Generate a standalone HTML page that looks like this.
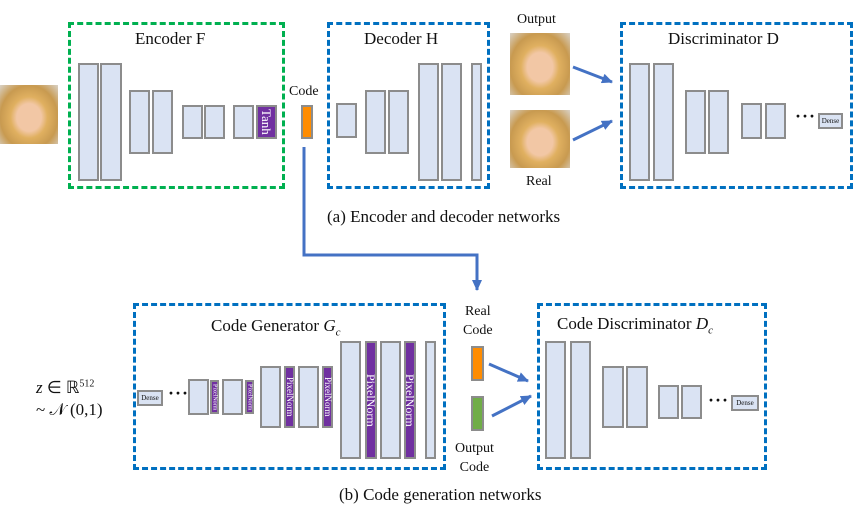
<!DOCTYPE html>
<html><head><style>
body{margin:0;width:862px;height:520px;background:#fff;position:relative;overflow:hidden;font-family:"Liberation Serif",serif;color:#111}
div{position:absolute;box-sizing:border-box}
.b{background:#dae3f3;border:2px solid #8c8c8c}
.p{background:#7030a0;border:2px solid #8c8c8c;color:#fff;writing-mode:vertical-rl;font-size:9px;display:flex;align-items:center;justify-content:center;line-height:1}
.g{border:3px dashed #00b050}
.d{border:3px dashed #0070c0}
.t{white-space:nowrap;font-size:17px}
.s{font-size:13px;white-space:nowrap}
.face{background:radial-gradient(ellipse at 50% 55%,#f2c7a5 0 30%,#e0b060 45%,#c89a50 70%,#d9d2c8 100%)}
.dense{background:#dae3f3;border:2px solid #8c8c8c;font-size:7px;text-align:center;line-height:12px}
.dots{font-size:18px;letter-spacing:1px;font-weight:bold}
</style></head><body>
<!-- (a) -->
<div class="face" style="left:0;top:85px;width:58px;height:59px"></div>
<div class="g" style="left:68px;top:22px;width:217px;height:167px"></div>
<div class="t" style="left:135px;top:29px">Encoder F</div>
<div class="b" style="left:78px;top:63px;width:21px;height:118px"></div>
<div class="b" style="left:100px;top:63px;width:22px;height:118px"></div>
<div class="b" style="left:129px;top:90px;width:21px;height:64px"></div>
<div class="b" style="left:152px;top:90px;width:21px;height:64px"></div>
<div class="b" style="left:182px;top:105px;width:21px;height:34px"></div>
<div class="b" style="left:204px;top:105px;width:21px;height:34px"></div>
<div class="b" style="left:233px;top:105px;width:21px;height:34px"></div>
<div class="p" style="left:256px;top:105px;width:21px;height:34px;font-size:13px">Tanh</div>
<div class="s" style="left:289px;top:84px;font-size:14px">Code</div>
<div style="left:301px;top:105px;width:12px;height:34px;background:#ff8c00;border:2px solid #8c8c8c"></div>
<div class="d" style="left:327px;top:22px;width:163px;height:167px"></div>
<div class="t" style="left:364px;top:29px">Decoder H</div>
<div class="b" style="left:336px;top:103px;width:21px;height:35px"></div>
<div class="b" style="left:365px;top:90px;width:21px;height:64px"></div>
<div class="b" style="left:388px;top:90px;width:21px;height:64px"></div>
<div class="b" style="left:418px;top:63px;width:21px;height:118px"></div>
<div class="b" style="left:441px;top:63px;width:21px;height:118px"></div>
<div class="b" style="left:471px;top:63px;width:11px;height:118px"></div>
<div class="s" style="left:517px;top:12px;font-size:14px">Output</div>
<div class="face" style="left:510px;top:33px;width:60px;height:62px"></div>
<div class="face" style="left:510px;top:110px;width:60px;height:58px"></div>
<div class="s" style="left:526px;top:174px;font-size:14px">Real</div>
<div class="d" style="left:620px;top:22px;width:233px;height:167px"></div>
<div class="t" style="left:668px;top:29px">Discriminator D</div>
<div class="b" style="left:629px;top:63px;width:21px;height:118px"></div>
<div class="b" style="left:653px;top:63px;width:21px;height:118px"></div>
<div class="b" style="left:685px;top:90px;width:21px;height:64px"></div>
<div class="b" style="left:708px;top:90px;width:21px;height:64px"></div>
<div class="b" style="left:741px;top:103px;width:21px;height:36px"></div>
<div class="b" style="left:765px;top:103px;width:21px;height:36px"></div>
<div class="dots" style="left:795px;top:106px">···</div>
<div class="dense" style="left:818px;top:113px;width:25px;height:16px">Dense</div>
<div class="t" style="left:327px;top:207px">(a) Encoder and decoder networks</div>
<!-- (b) -->
<div class="d" style="left:133px;top:303px;width:313px;height:167px"></div>
<div class="t" style="left:211px;top:316px">Code Generator <i>G<sub style="font-size:11px">c</sub></i></div>
<div class="s" style="left:36px;top:378px;font-size:17px"><i>z</i> ∈ ℝ<sup style="font-size:10px">512</sup></div>
<div class="s" style="left:36px;top:400px;font-size:17px">~ 𝒩 (0,1)</div>
<div class="dense" style="left:137px;top:390px;width:26px;height:16px">Dense</div>
<div class="dots" style="left:168px;top:383px">···</div>
<div class="b" style="left:188px;top:379px;width:21px;height:36px"></div>
<div class="p" style="left:210px;top:380px;width:9px;height:34px;font-size:6px">PixelNorm</div>
<div class="b" style="left:222px;top:379px;width:21px;height:36px"></div>
<div class="p" style="left:245px;top:380px;width:9px;height:34px;font-size:6px">PixelNorm</div>
<div class="b" style="left:260px;top:366px;width:21px;height:62px"></div>
<div class="p" style="left:284px;top:366px;width:11px;height:62px">PixelNorm</div>
<div class="b" style="left:298px;top:366px;width:21px;height:62px"></div>
<div class="p" style="left:322px;top:366px;width:11px;height:62px">PixelNorm</div>
<div class="b" style="left:340px;top:341px;width:21px;height:118px"></div>
<div class="p" style="left:365px;top:341px;width:12px;height:118px;font-size:12px">PixelNorm</div>
<div class="b" style="left:380px;top:341px;width:21px;height:118px"></div>
<div class="p" style="left:404px;top:341px;width:12px;height:118px;font-size:12px">PixelNorm</div>
<div class="b" style="left:425px;top:341px;width:11px;height:118px"></div>
<div class="s" style="left:463px;top:302px;font-size:14px;text-align:center;line-height:19px">Real<br>Code</div>
<div style="left:471px;top:346px;width:13px;height:35px;background:#ff8c00;border:2px solid #8c8c8c"></div>
<div style="left:471px;top:396px;width:13px;height:35px;background:#70ad47;border:2px solid #8c8c8c"></div>
<div class="s" style="left:455px;top:439px;font-size:14px;text-align:center;line-height:19px">Output<br>Code</div>
<div class="d" style="left:537px;top:303px;width:230px;height:167px"></div>
<div class="t" style="left:557px;top:314px">Code Discriminator <i>D<sub style="font-size:11px">c</sub></i></div>
<div class="b" style="left:545px;top:341px;width:21px;height:118px"></div>
<div class="b" style="left:570px;top:341px;width:21px;height:118px"></div>
<div class="b" style="left:602px;top:366px;width:22px;height:62px"></div>
<div class="b" style="left:626px;top:366px;width:22px;height:62px"></div>
<div class="b" style="left:658px;top:385px;width:21px;height:34px"></div>
<div class="b" style="left:681px;top:385px;width:21px;height:34px"></div>
<div class="dots" style="left:708px;top:390px">···</div>
<div class="dense" style="left:731px;top:395px;width:28px;height:16px">Dense</div>
<div class="t" style="left:339px;top:485px">(b) Code generation networks</div>
<svg width="862" height="520" style="position:absolute;left:0;top:0">
<defs><marker id="a" markerWidth="11" markerHeight="10" refX="10" refY="5" orient="auto" markerUnits="userSpaceOnUse"><path d="M0,0L11,5L0,10z" fill="#4472c4"/></marker></defs>
<g stroke="#4472c4" stroke-width="3" fill="none">
<polyline points="304,147 304,255 477,255 477,290" marker-end="url(#a)"/>
<line x1="573" y1="67" x2="612" y2="82" marker-end="url(#a)"/>
<line x1="573" y1="140" x2="612" y2="121" marker-end="url(#a)"/>
<line x1="489" y1="364" x2="528" y2="381" marker-end="url(#a)"/>
<line x1="492" y1="416" x2="531" y2="396" marker-end="url(#a)"/>
</g></svg>
</body></html>
